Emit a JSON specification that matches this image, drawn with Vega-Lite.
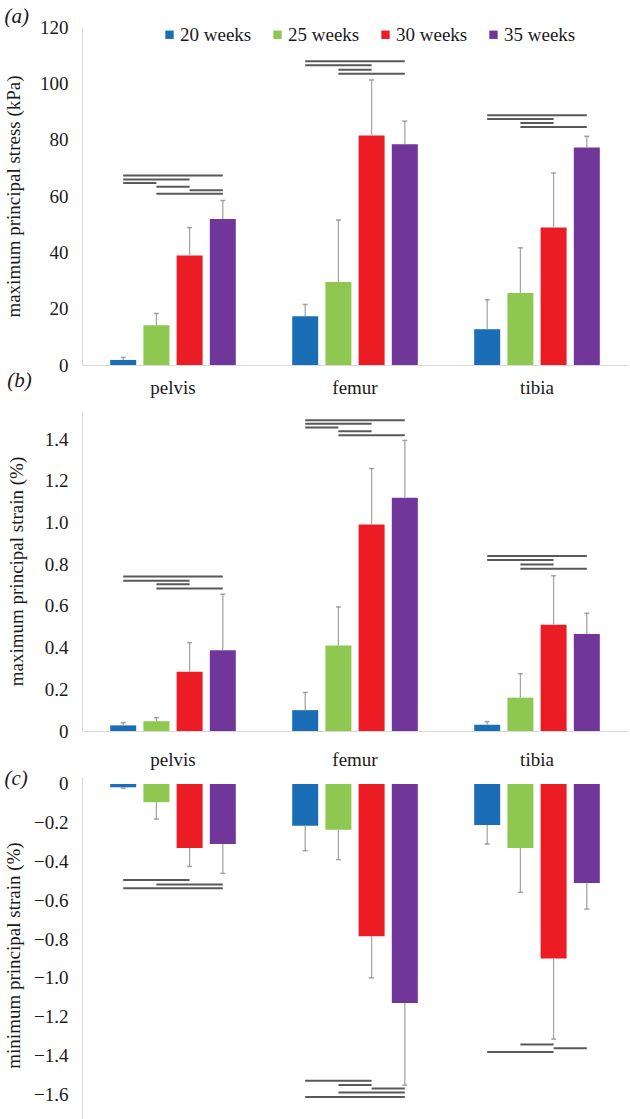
{
  "$schema": "https://vega.github.io/schema/vega-lite/v6.json",
  "background": "white",
  "padding": {"left": 4, "top": 6, "right": 0, "bottom": 0},
  "datasets": {
    "bars": [
      {"panel": "a", "bone": "pelvis", "week": "20 weeks", "value": 1.8, "err": 2.7},
      {"panel": "a", "bone": "pelvis", "week": "25 weeks", "value": 14.1, "err": 18.3},
      {"panel": "a", "bone": "pelvis", "week": "30 weeks", "value": 38.9, "err": 48.8},
      {"panel": "a", "bone": "pelvis", "week": "35 weeks", "value": 51.8, "err": 58.4},
      {"panel": "a", "bone": "femur", "week": "20 weeks", "value": 17.3, "err": 21.5},
      {"panel": "a", "bone": "femur", "week": "25 weeks", "value": 29.5, "err": 51.5},
      {"panel": "a", "bone": "femur", "week": "30 weeks", "value": 81.5, "err": 101.2},
      {"panel": "a", "bone": "femur", "week": "35 weeks", "value": 78.4, "err": 86.6},
      {"panel": "a", "bone": "tibia", "week": "20 weeks", "value": 12.7, "err": 23.2},
      {"panel": "a", "bone": "tibia", "week": "25 weeks", "value": 25.6, "err": 41.6},
      {"panel": "a", "bone": "tibia", "week": "30 weeks", "value": 48.8, "err": 68.2},
      {"panel": "a", "bone": "tibia", "week": "35 weeks", "value": 77.2, "err": 81.2},
      {"panel": "b", "bone": "pelvis", "week": "20 weeks", "value": 0.027, "err": 0.04},
      {"panel": "b", "bone": "pelvis", "week": "25 weeks", "value": 0.047, "err": 0.064},
      {"panel": "b", "bone": "pelvis", "week": "30 weeks", "value": 0.284, "err": 0.424},
      {"panel": "b", "bone": "pelvis", "week": "35 weeks", "value": 0.387, "err": 0.656},
      {"panel": "b", "bone": "femur", "week": "20 weeks", "value": 0.1, "err": 0.185},
      {"panel": "b", "bone": "femur", "week": "25 weeks", "value": 0.41, "err": 0.595},
      {"panel": "b", "bone": "femur", "week": "30 weeks", "value": 0.991, "err": 1.259},
      {"panel": "b", "bone": "femur", "week": "35 weeks", "value": 1.119, "err": 1.394},
      {"panel": "b", "bone": "tibia", "week": "20 weeks", "value": 0.03, "err": 0.045},
      {"panel": "b", "bone": "tibia", "week": "25 weeks", "value": 0.16, "err": 0.275},
      {"panel": "b", "bone": "tibia", "week": "30 weeks", "value": 0.51, "err": 0.745},
      {"panel": "b", "bone": "tibia", "week": "35 weeks", "value": 0.465, "err": 0.565},
      {"panel": "c", "bone": "pelvis", "week": "20 weeks", "value": -0.017, "err": -0.022},
      {"panel": "c", "bone": "pelvis", "week": "25 weeks", "value": -0.094, "err": -0.181},
      {"panel": "c", "bone": "pelvis", "week": "30 weeks", "value": -0.33, "err": -0.425},
      {"panel": "c", "bone": "pelvis", "week": "35 weeks", "value": -0.31, "err": -0.461},
      {"panel": "c", "bone": "femur", "week": "20 weeks", "value": -0.215, "err": -0.344},
      {"panel": "c", "bone": "femur", "week": "25 weeks", "value": -0.236, "err": -0.39},
      {"panel": "c", "bone": "femur", "week": "30 weeks", "value": -0.785, "err": -1.0},
      {"panel": "c", "bone": "femur", "week": "35 weeks", "value": -1.13, "err": -1.553},
      {"panel": "c", "bone": "tibia", "week": "20 weeks", "value": -0.212, "err": -0.31},
      {"panel": "c", "bone": "tibia", "week": "25 weeks", "value": -0.33, "err": -0.559},
      {"panel": "c", "bone": "tibia", "week": "30 weeks", "value": -0.9, "err": -1.316},
      {"panel": "c", "bone": "tibia", "week": "35 weeks", "value": -0.511, "err": -0.645}
    ],
    "sig": [
      {"panel": "a", "bone": "pelvis", "id": "a1", "week": "20 weeks", "level": 67.3},
      {"panel": "a", "bone": "pelvis", "id": "a1", "week": "35 weeks", "level": 67.3},
      {"panel": "a", "bone": "pelvis", "id": "a2", "week": "20 weeks", "level": 65.9},
      {"panel": "a", "bone": "pelvis", "id": "a2", "week": "30 weeks", "level": 65.9},
      {"panel": "a", "bone": "pelvis", "id": "a3", "week": "20 weeks", "level": 64.6},
      {"panel": "a", "bone": "pelvis", "id": "a3", "week": "25 weeks", "level": 64.6},
      {"panel": "a", "bone": "pelvis", "id": "a4", "week": "25 weeks", "level": 63.3},
      {"panel": "a", "bone": "pelvis", "id": "a4", "week": "30 weeks", "level": 63.3},
      {"panel": "a", "bone": "pelvis", "id": "a5", "week": "30 weeks", "level": 62.0},
      {"panel": "a", "bone": "pelvis", "id": "a5", "week": "35 weeks", "level": 62.0},
      {"panel": "a", "bone": "pelvis", "id": "a6", "week": "25 weeks", "level": 60.8},
      {"panel": "a", "bone": "pelvis", "id": "a6", "week": "35 weeks", "level": 60.8},
      {"panel": "a", "bone": "femur", "id": "a7", "week": "20 weeks", "level": 107.8},
      {"panel": "a", "bone": "femur", "id": "a7", "week": "35 weeks", "level": 107.8},
      {"panel": "a", "bone": "femur", "id": "a8", "week": "20 weeks", "level": 106.4},
      {"panel": "a", "bone": "femur", "id": "a8", "week": "30 weeks", "level": 106.4},
      {"panel": "a", "bone": "femur", "id": "a9", "week": "25 weeks", "level": 104.8},
      {"panel": "a", "bone": "femur", "id": "a9", "week": "30 weeks", "level": 104.8},
      {"panel": "a", "bone": "femur", "id": "a10", "week": "25 weeks", "level": 103.4},
      {"panel": "a", "bone": "femur", "id": "a10", "week": "35 weeks", "level": 103.4},
      {"panel": "a", "bone": "tibia", "id": "a11", "week": "20 weeks", "level": 88.7},
      {"panel": "a", "bone": "tibia", "id": "a11", "week": "35 weeks", "level": 88.7},
      {"panel": "a", "bone": "tibia", "id": "a12", "week": "20 weeks", "level": 87.3},
      {"panel": "a", "bone": "tibia", "id": "a12", "week": "30 weeks", "level": 87.3},
      {"panel": "a", "bone": "tibia", "id": "a13", "week": "25 weeks", "level": 85.9},
      {"panel": "a", "bone": "tibia", "id": "a13", "week": "30 weeks", "level": 85.9},
      {"panel": "a", "bone": "tibia", "id": "a14", "week": "25 weeks", "level": 84.5},
      {"panel": "a", "bone": "tibia", "id": "a14", "week": "35 weeks", "level": 84.5},
      {"panel": "b", "bone": "pelvis", "id": "b1", "week": "20 weeks", "level": 0.741},
      {"panel": "b", "bone": "pelvis", "id": "b1", "week": "35 weeks", "level": 0.741},
      {"panel": "b", "bone": "pelvis", "id": "b2", "week": "20 weeks", "level": 0.721},
      {"panel": "b", "bone": "pelvis", "id": "b2", "week": "30 weeks", "level": 0.721},
      {"panel": "b", "bone": "pelvis", "id": "b3", "week": "25 weeks", "level": 0.704},
      {"panel": "b", "bone": "pelvis", "id": "b3", "week": "30 weeks", "level": 0.704},
      {"panel": "b", "bone": "pelvis", "id": "b4", "week": "25 weeks", "level": 0.684},
      {"panel": "b", "bone": "pelvis", "id": "b4", "week": "35 weeks", "level": 0.684},
      {"panel": "b", "bone": "femur", "id": "b5", "week": "20 weeks", "level": 1.491},
      {"panel": "b", "bone": "femur", "id": "b5", "week": "35 weeks", "level": 1.491},
      {"panel": "b", "bone": "femur", "id": "b6", "week": "20 weeks", "level": 1.474},
      {"panel": "b", "bone": "femur", "id": "b6", "week": "30 weeks", "level": 1.474},
      {"panel": "b", "bone": "femur", "id": "b7", "week": "20 weeks", "level": 1.456},
      {"panel": "b", "bone": "femur", "id": "b7", "week": "25 weeks", "level": 1.456},
      {"panel": "b", "bone": "femur", "id": "b8", "week": "25 weeks", "level": 1.438},
      {"panel": "b", "bone": "femur", "id": "b8", "week": "30 weeks", "level": 1.438},
      {"panel": "b", "bone": "femur", "id": "b9", "week": "25 weeks", "level": 1.419},
      {"panel": "b", "bone": "femur", "id": "b9", "week": "35 weeks", "level": 1.419},
      {"panel": "b", "bone": "tibia", "id": "b10", "week": "20 weeks", "level": 0.839},
      {"panel": "b", "bone": "tibia", "id": "b10", "week": "35 weeks", "level": 0.839},
      {"panel": "b", "bone": "tibia", "id": "b11", "week": "20 weeks", "level": 0.82},
      {"panel": "b", "bone": "tibia", "id": "b11", "week": "30 weeks", "level": 0.82},
      {"panel": "b", "bone": "tibia", "id": "b12", "week": "25 weeks", "level": 0.799},
      {"panel": "b", "bone": "tibia", "id": "b12", "week": "30 weeks", "level": 0.799},
      {"panel": "b", "bone": "tibia", "id": "b13", "week": "25 weeks", "level": 0.778},
      {"panel": "b", "bone": "tibia", "id": "b13", "week": "35 weeks", "level": 0.778},
      {"panel": "c", "bone": "pelvis", "id": "c1", "week": "20 weeks", "level": -0.495},
      {"panel": "c", "bone": "pelvis", "id": "c1", "week": "30 weeks", "level": -0.495},
      {"panel": "c", "bone": "pelvis", "id": "c2", "week": "25 weeks", "level": -0.518},
      {"panel": "c", "bone": "pelvis", "id": "c2", "week": "35 weeks", "level": -0.518},
      {"panel": "c", "bone": "pelvis", "id": "c3", "week": "20 weeks", "level": -0.538},
      {"panel": "c", "bone": "pelvis", "id": "c3", "week": "35 weeks", "level": -0.538},
      {"panel": "c", "bone": "femur", "id": "c4", "week": "20 weeks", "level": -1.531},
      {"panel": "c", "bone": "femur", "id": "c4", "week": "30 weeks", "level": -1.531},
      {"panel": "c", "bone": "femur", "id": "c5", "week": "25 weeks", "level": -1.553},
      {"panel": "c", "bone": "femur", "id": "c5", "week": "30 weeks", "level": -1.553},
      {"panel": "c", "bone": "femur", "id": "c6", "week": "30 weeks", "level": -1.57},
      {"panel": "c", "bone": "femur", "id": "c6", "week": "35 weeks", "level": -1.57},
      {"panel": "c", "bone": "femur", "id": "c7", "week": "25 weeks", "level": -1.591},
      {"panel": "c", "bone": "femur", "id": "c7", "week": "35 weeks", "level": -1.591},
      {"panel": "c", "bone": "femur", "id": "c8", "week": "20 weeks", "level": -1.614},
      {"panel": "c", "bone": "femur", "id": "c8", "week": "35 weeks", "level": -1.614},
      {"panel": "c", "bone": "tibia", "id": "c9", "week": "25 weeks", "level": -1.343},
      {"panel": "c", "bone": "tibia", "id": "c9", "week": "30 weeks", "level": -1.343},
      {"panel": "c", "bone": "tibia", "id": "c10", "week": "30 weeks", "level": -1.363},
      {"panel": "c", "bone": "tibia", "id": "c10", "week": "35 weeks", "level": -1.363},
      {"panel": "c", "bone": "tibia", "id": "c11", "week": "20 weeks", "level": -1.382},
      {"panel": "c", "bone": "tibia", "id": "c11", "week": "30 weeks", "level": -1.382}
    ]
  },
  "config": {
    "view": {"stroke": null},
    "font": "Liberation Serif",
    "axis": {
      "labelFont": "Liberation Serif", "titleFont": "Liberation Serif",
      "labelFontSize": 19, "titleFontSize": 19, "titleFontWeight": "normal",
      "labelColor": "#1a1a1a", "titleColor": "#1a1a1a",
      "domainColor": "#d9d9d9", "domainWidth": 1, "ticks": false, "grid": false
    },
    "axisY": {"labelPadding": 14},
    "axisX": {"labelAngle": 0, "labelPadding": 13},
    "title": {"font": "Liberation Serif", "fontSize": 21, "fontStyle": "italic", "fontWeight": "normal", "anchor": "start", "frame": "bounds", "color": "#1a1a1a", "baseline": "bottom"},
    "bar": {"stroke": null}
  },
  "bounds": "flush",
  "spacing": 46,
  "vconcat": [
    {
      "width": 546, "height": 338,
      "title": {"text": "(a)", "offset": -9},
      "layer": [
        {
          "data": {"name": "bars"},
          "transform": [{"filter": "datum.panel == 'a'"}],
          "mark": {"type": "bar"},
          "encoding": {
            "x": {"field": "bone", "type": "nominal", "sort": ["pelvis", "femur", "tibia"], "scale": {"paddingInner": 0, "paddingOuter": 0}, "axis": {"title": null}},
            "xOffset": {"field": "week", "type": "nominal", "scale": {"paddingInner": 0.217, "paddingOuter": 0.849}},
            "y": {"field": "value", "type": "quantitative", "scale": {"domain": [0, 120], "nice": false}, "axis": {"values": [0, 20, 40, 60, 80, 100, 120], "titlePadding": 16}, "title": "maximum principal stress (kPa)"},
            "color": {"field": "week", "type": "nominal", "scale": {"domain": ["20 weeks", "25 weeks", "30 weeks", "35 weeks"], "range": ["#1b6db5", "#8fc850", "#ec1c24", "#70369a"]},
              "legend": {"orient": "none", "legendX": 78, "legendY": -2, "direction": "horizontal", "title": null, "symbolType": "square", "symbolSize": 70, "symbolStrokeWidth": 0, "labelFont": "Liberation Serif", "labelFontSize": 19, "labelColor": "#1a1a1a", "columnPadding": 16, "labelOffset": 1}}
          }
        },
        {
          "data": {"name": "bars"},
          "transform": [{"filter": "datum.panel == 'a'"}],
          "mark": {"type": "rule", "color": "#a6a6a6", "strokeWidth": 1.3},
          "encoding": {
            "x": {"field": "bone", "type": "nominal", "sort": ["pelvis", "femur", "tibia"]},
            "xOffset": {"field": "week", "type": "nominal"},
            "y": {"field": "value", "type": "quantitative", "title": "maximum principal stress (kPa)"},
            "y2": {"field": "err"}
          }
        },
        {
          "data": {"name": "bars"},
          "transform": [{"filter": "datum.panel == 'a'"}],
          "mark": {"type": "tick", "color": "#7f7f7f", "thickness": 1.5, "size": 5, "orient": "horizontal"},
          "encoding": {
            "x": {"field": "bone", "type": "nominal", "sort": ["pelvis", "femur", "tibia"]},
            "xOffset": {"field": "week", "type": "nominal"},
            "y": {"field": "err", "type": "quantitative", "title": "maximum principal stress (kPa)"}
          }
        },
        {
          "data": {"name": "sig"},
          "transform": [{"filter": "datum.panel == 'a'"}],
          "mark": {"type": "line", "color": "#595959", "strokeWidth": 2},
          "encoding": {
            "x": {"field": "bone", "type": "nominal", "sort": ["pelvis", "femur", "tibia"]},
            "xOffset": {"field": "week", "type": "nominal"},
            "y": {"field": "level", "type": "quantitative", "title": "maximum principal stress (kPa)"},
            "detail": {"field": "id"}
          }
        }
      ]
    },
    {
      "width": 546, "height": 320,
      "title": {"text": "(b)", "offset": 20},
      "layer": [
        {
          "data": {"name": "bars"},
          "transform": [{"filter": "datum.panel == 'b'"}],
          "mark": {"type": "bar"},
          "encoding": {
            "x": {"field": "bone", "type": "nominal", "sort": ["pelvis", "femur", "tibia"], "scale": {"paddingInner": 0, "paddingOuter": 0}, "axis": {"title": null, "labelPadding": 19}},
            "xOffset": {"field": "week", "type": "nominal", "scale": {"paddingInner": 0.217, "paddingOuter": 0.849}},
            "y": {"field": "value", "type": "quantitative", "scale": {"domain": [0, 1.535], "nice": false}, "axis": {"values": [0, 0.2, 0.4, 0.6, 0.8, 1.0, 1.2, 1.4], "labelExpr": "datum.value == 0 ? '0' : format(datum.value, '.1f')", "titlePadding": 18}, "title": "maximum principal strain (%)"},
            "color": {"field": "week", "type": "nominal", "scale": {"domain": ["20 weeks", "25 weeks", "30 weeks", "35 weeks"], "range": ["#1b6db5", "#8fc850", "#ec1c24", "#70369a"]},
              "legend": {"orient": "none", "legendX": 78, "legendY": -2, "direction": "horizontal", "title": null, "symbolType": "square", "symbolSize": 70, "symbolStrokeWidth": 0, "labelFont": "Liberation Serif", "labelFontSize": 19, "labelColor": "#1a1a1a", "columnPadding": 16, "labelOffset": 1}}
          }
        },
        {
          "data": {"name": "bars"},
          "transform": [{"filter": "datum.panel == 'b'"}],
          "mark": {"type": "rule", "color": "#a6a6a6", "strokeWidth": 1.3},
          "encoding": {
            "x": {"field": "bone", "type": "nominal", "sort": ["pelvis", "femur", "tibia"]},
            "xOffset": {"field": "week", "type": "nominal"},
            "y": {"field": "value", "type": "quantitative", "title": "maximum principal strain (%)"},
            "y2": {"field": "err"}
          }
        },
        {
          "data": {"name": "bars"},
          "transform": [{"filter": "datum.panel == 'b'"}],
          "mark": {"type": "tick", "color": "#7f7f7f", "thickness": 1.5, "size": 5, "orient": "horizontal"},
          "encoding": {
            "x": {"field": "bone", "type": "nominal", "sort": ["pelvis", "femur", "tibia"]},
            "xOffset": {"field": "week", "type": "nominal"},
            "y": {"field": "err", "type": "quantitative", "title": "maximum principal strain (%)"}
          }
        },
        {
          "data": {"name": "sig"},
          "transform": [{"filter": "datum.panel == 'b'"}],
          "mark": {"type": "line", "color": "#595959", "strokeWidth": 2},
          "encoding": {
            "x": {"field": "bone", "type": "nominal", "sort": ["pelvis", "femur", "tibia"]},
            "xOffset": {"field": "week", "type": "nominal"},
            "y": {"field": "level", "type": "quantitative", "title": "maximum principal strain (%)"},
            "detail": {"field": "id"}
          }
        }
      ]
    },
    {
      "width": 546, "height": 356,
      "title": {"text": "(c)", "offset": -14},
      "layer": [
        {
          "data": {"name": "bars"},
          "transform": [{"filter": "datum.panel == 'c'"}],
          "mark": {"type": "bar"},
          "encoding": {
            "x": {"field": "bone", "type": "nominal", "sort": ["pelvis", "femur", "tibia"], "scale": {"paddingInner": 0, "paddingOuter": 0}, "axis": null},
            "xOffset": {"field": "week", "type": "nominal", "scale": {"paddingInner": 0.217, "paddingOuter": 0.849}},
            "y": {"field": "value", "type": "quantitative", "scale": {"domain": [-1.8, 0.036], "nice": false, "zero": false}, "axis": {"values": [0, -0.2, -0.4, -0.6, -0.8, -1.0, -1.2, -1.4, -1.6], "labelExpr": "datum.value == 0 ? '0' : format(datum.value, '.1f')", "titlePadding": 10}, "title": "minimum principal strain (%)"},
            "color": {"field": "week", "type": "nominal", "scale": {"domain": ["20 weeks", "25 weeks", "30 weeks", "35 weeks"], "range": ["#1b6db5", "#8fc850", "#ec1c24", "#70369a"]},
              "legend": {"orient": "none", "legendX": 78, "legendY": -2, "direction": "horizontal", "title": null, "symbolType": "square", "symbolSize": 70, "symbolStrokeWidth": 0, "labelFont": "Liberation Serif", "labelFontSize": 19, "labelColor": "#1a1a1a", "columnPadding": 16, "labelOffset": 1}}
          }
        },
        {
          "data": {"name": "bars"},
          "transform": [{"filter": "datum.panel == 'c'"}],
          "mark": {"type": "rule", "color": "#a6a6a6", "strokeWidth": 1.3},
          "encoding": {
            "x": {"field": "bone", "type": "nominal", "sort": ["pelvis", "femur", "tibia"]},
            "xOffset": {"field": "week", "type": "nominal"},
            "y": {"field": "value", "type": "quantitative", "title": "minimum principal strain (%)"},
            "y2": {"field": "err"}
          }
        },
        {
          "data": {"name": "bars"},
          "transform": [{"filter": "datum.panel == 'c'"}],
          "mark": {"type": "tick", "color": "#7f7f7f", "thickness": 1.5, "size": 5, "orient": "horizontal"},
          "encoding": {
            "x": {"field": "bone", "type": "nominal", "sort": ["pelvis", "femur", "tibia"]},
            "xOffset": {"field": "week", "type": "nominal"},
            "y": {"field": "err", "type": "quantitative", "title": "minimum principal strain (%)"}
          }
        },
        {
          "data": {"name": "sig"},
          "transform": [{"filter": "datum.panel == 'c'"}],
          "mark": {"type": "line", "color": "#595959", "strokeWidth": 2},
          "encoding": {
            "x": {"field": "bone", "type": "nominal", "sort": ["pelvis", "femur", "tibia"]},
            "xOffset": {"field": "week", "type": "nominal"},
            "y": {"field": "level", "type": "quantitative", "title": "minimum principal strain (%)"},
            "detail": {"field": "id"}
          }
        },
        {
          "mark": {"type": "rule", "color": "#d9d9d9", "strokeWidth": 1},
          "encoding": {"y": {"datum": 0, "type": "quantitative"}}
        }
      ]
    }
  ]
}
